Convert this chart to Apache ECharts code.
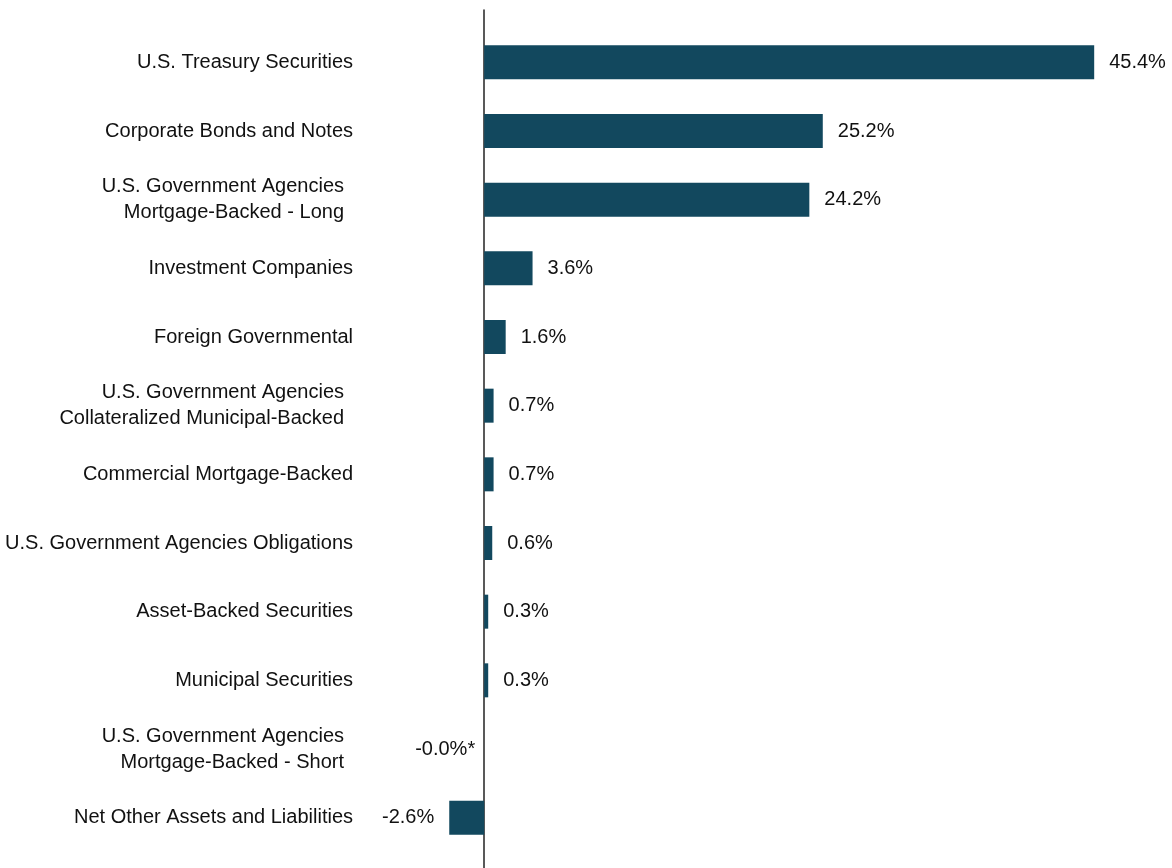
<!DOCTYPE html>
<html>
<head>
<meta charset="utf-8">
<script src="https://cdn.jsdelivr.net/npm/echarts@6/dist/echarts.min.js"></script>
<style>
    html, body { margin: 0; padding: 0; background: #fff; }
    #chart { width: 1172px; height: 868px; }
</style>
</head>
<body>
<div id="chart"></div>
<script>
    // sectors, top to bottom
    const categories = [
        'U.S. Treasury Securities',
        'Corporate Bonds and Notes',
        'U.S. Government Agencies\nMortgage-Backed - Long',
        'Investment Companies',
        'Foreign Governmental',
        'U.S. Government Agencies\nCollateralized Municipal-Backed',
        'Commercial Mortgage-Backed',
        'U.S. Government Agencies Obligations',
        'Asset-Backed Securities',
        'Municipal Securities',
        'U.S. Government Agencies\nMortgage-Backed - Short',
        'Net Other Assets and Liabilities'
    ]
    const values = [45.4, 25.2, 24.2, 3.6, 1.6, 0.7, 0.7, 0.6, 0.3, 0.3, -0.0, -2.6]
    const valueLabels = ['45.4%', '25.2%', '24.2%', '3.6%', '1.6%', '0.7%', '0.7%', '0.6%', '0.3%', '0.3%', '-0.0%*', '-2.6%']

    const font = 'Liberation Sans, Arial, sans-serif'
    const barColor = '#12485e'
    const xMin = -5, xMax = 50

    const barData = values.map((v, i) => {
        const neg = v < 0 || Object.is(v, -0) || valueLabels[i].charAt(0) === '-'
        return {
            value: v,
            label: {
                position: neg ? 'left' : 'right',
                distance: (neg && v === 0) ? 9 : 15
            }
        }
    })

    const chart = echarts.init(document.getElementById('chart'))
    chart.setOption({
        animation: false,
        grid: [
            { left: 417, right: 16, top: 28, bottom: 16 },
            { left: 417, right: 16, top: 10, bottom: 0 }
        ],
        xAxis: [
            { type: 'value', gridIndex: 0, min: xMin, max: xMax, show: false },
            {
                type: 'value', gridIndex: 1, min: xMin, max: xMax,
                axisLine: { show: false }, axisTick: { show: false },
                axisLabel: { show: false }, splitLine: { show: false }
            }
        ],
        yAxis: [
            {
                type: 'category',
                gridIndex: 0,
                inverse: true,
                data: categories,
                axisLine: { show: false },
                axisTick: { show: false },
                axisLabel: {
                    margin: 64,
                    color: '#111',
                    fontFamily: font,
                    fontSize: 20,
                    formatter: function (v) {
                        if (v.indexOf('\n') < 0) return v
                        return v.split('\n').map(s => '{m|' + s + '}').join('\n')
                    },
                    rich: {
                        m: {
                            fontFamily: font,
                            fontSize: 20,
                            color: '#111',
                            lineHeight: 26,
                            align: 'right',
                            padding: [0, 9, 0, 0]
                        }
                    }
                }
            },
            {
                type: 'value',
                gridIndex: 1,
                min: 0,
                max: 1,
                axisLine: { show: true, onZero: true, lineStyle: { color: '#222', width: 1.5 } },
                axisTick: { show: false },
                axisLabel: { show: false },
                splitLine: { show: false }
            }
        ],
        series: [
            {
                type: 'bar',
                xAxisIndex: 0,
                yAxisIndex: 0,
                data: barData,
                barWidth: 34,
                itemStyle: { color: barColor },
                label: {
                    show: true,
                    color: '#111',
                    fontFamily: font,
                    fontSize: 20,
                    formatter: p => valueLabels[p.dataIndex]
                }
            }
        ]
    })
</script>
</body>
</html>
